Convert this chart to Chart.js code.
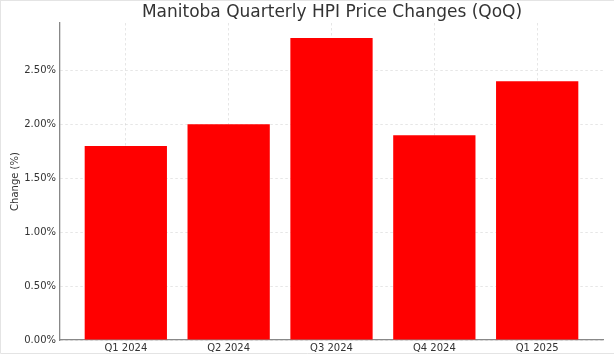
<!DOCTYPE html>
<html>
<head>
<meta charset="utf-8">
<script src="https://cdn.jsdelivr.net/npm/chart.js@4"></script>
<style>
  html, body { margin: 0; padding: 0; background: #fff; }
  #wrap { width: 614px; height: 354px; }
</style>
</head>
<body>
<div id="wrap"><canvas id="hpiChart" width="614" height="354"></canvas></div>
<script>
const quarters = ['Q1 2024', 'Q2 2024', 'Q3 2024', 'Q4 2024', 'Q1 2025'];
const qoqChange = [1.8, 2.0, 2.8, 1.9, 2.4];
const yTicks = [0, 0.5, 1.0, 1.5, 2.0, 2.5];

const font = 'DejaVu Sans';

// title drawn by hand so it sits over the plot, plus the faint picture frame
const titlePlugin = {
  id: 'offsetTitle',
  afterDraw(chart) {
    const ctx = chart.ctx;
    ctx.save();
    ctx.strokeStyle = '#e4e4e4';
    ctx.lineWidth = 1;
    ctx.beginPath();
    ctx.moveTo(0.5, 0);
    ctx.lineTo(0.5, 353.5);
    ctx.lineTo(614, 353.5);
    ctx.moveTo(0, 0.5);
    ctx.lineTo(614, 0.5);
    ctx.stroke();
    ctx.font = '17px "' + font + '"';
    ctx.fillStyle = '#333';
    ctx.textAlign = 'center';
    ctx.textBaseline = 'middle';
    ctx.fillText('Manitoba Quarterly HPI Price Changes (QoQ)', 332, 13);
    ctx.restore();
  }
};

const gridColor = 'rgba(200,200,200,0.45)';

new Chart(document.getElementById('hpiChart'), {
  type: 'bar',
  data: {
    datasets: [{
      label: 'Change (%)',
      data: quarters.map((q, i) => ({ x: i, y: qoqChange[i] })),
      backgroundColor: '#ff0000',
      borderWidth: 0,
      barPercentage: 0.8,
      categoryPercentage: 1.0
    }]
  },
  options: {
    responsive: false,
    animation: false,
    layout: { padding: { top: 23, right: 11, left: 0, bottom: 0 } },
    plugins: {
      legend: { display: false },
      tooltip: { enabled: false }
    },
    scales: {
      x: {
        type: 'linear',
        offset: false,
        min: -0.64,
        max: 4.64,
        z: 1,
        afterBuildTicks(scale) {
          scale.ticks = quarters.map((q, i) => ({ value: i }));
        },
        afterFit(scale) { scale.height = 14; },
        ticks: {
          callback: v => quarters[v],
          font: { family: font, size: 10 },
          color: '#333',
          padding: 2,
          maxRotation: 0
        },
        grid: {
          offset: false,
          color: gridColor,
          drawTicks: false
        },
        border: { color: '#888', width: 1.3, dash: [2.5, 2.5] }
      },
      y: {
        min: 0,
        max: 2.94,
        z: 1,
        afterBuildTicks(scale) {
          scale.ticks = yTicks.map(v => ({ value: v }));
        },
        afterFit(scale) { scale.width = 60; },
        ticks: {
          callback: v => v.toFixed(2) + '%',
          font: { family: font, size: 10 },
          color: '#333',
          padding: 4
        },
        grid: {
          color: gridColor,
          drawTicks: false
        },
        border: { color: '#888', width: 1.3, dash: [2.5, 2.5] },
        title: {
          display: true,
          text: 'Change (%)',
          font: { family: font, size: 10 },
          color: '#333',
          padding: { top: 9, bottom: 0 }
        }
      }
    }
  },
  plugins: [titlePlugin]
});
</script>
</body>
</html>
